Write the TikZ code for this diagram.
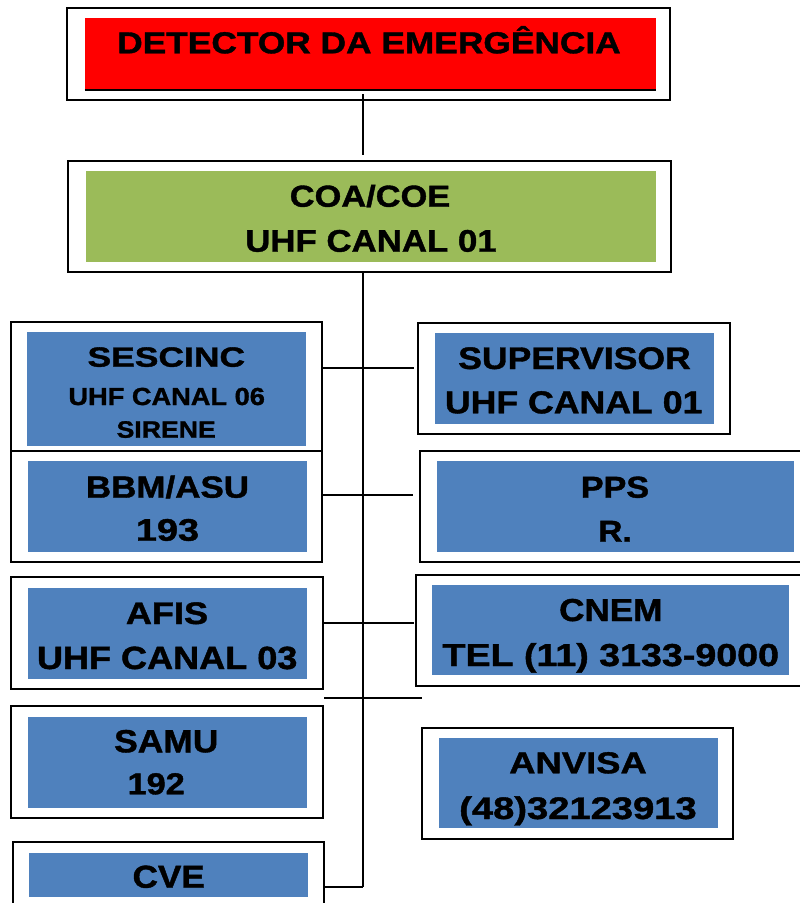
\documentclass[tikz,border=0pt]{standalone}
\usepackage{fontspec}
\usepackage{graphicx}
\usetikzlibrary{calc}
\setmainfont{Liberation Sans}[BoldFeatures={FakeBold=1.2}]
\definecolor{boxred}{HTML}{FF0000}
\definecolor{boxgreen}{HTML}{9BBB59}
\definecolor{boxblue}{HTML}{4F81BD}
\newcommand\fitline[3]{\resizebox{#2pt}{\height}{\fontsize{#1pt}{#1pt}\selectfont #3}}
\tikzset{
  outerbox/.style={draw=black, line width=1.9pt, fill=white, rectangle, inner sep=0pt, outer sep=0pt},
  innerbox/.style={fill=#1, draw=none, rectangle, inner sep=0pt, outer sep=0pt},
  txt/.style={inner sep=0pt, outer sep=0pt, anchor=base, font=\bfseries},
  conn/.style={draw=black, line width=2pt}
}
\begin{document}
\begin{tikzpicture}[x=1pt,y=-1pt]
\useasboundingbox (0,0) rectangle (800,903);
\fill[white] (0,0) rectangle (800,903);
\clip (0,0) rectangle (800,903);

% trunk coordinates
\coordinate (tx) at (363.3,0);
\coordinate (h1) at (363.3,368.3);
\coordinate (h2) at (363.3,495);
\coordinate (h3) at (363.3,622.7);
\coordinate (h4) at (363.3,698);
\coordinate (h5) at (363.3,887.3);
\coordinate (d4r) at (421.7,698);
\coordinate (d4l) at (324,698);

% top box
\node[outerbox, minimum width=603pt, minimum height=92pt] (det) at (368.5,54) {};
\node[innerbox=boxred, minimum width=571pt, minimum height=71.7pt] (detin) at (370,54.2) {};
\draw[line width=1.5pt] (detin.south west) -- (detin.south east);
\node[txt] (det1) at (369,53.3) {\fitline{30.3}{503.5}{DETECTOR DA EMERGÊNCIA}};

% COA box
\node[outerbox, minimum width=603pt, minimum height=111pt] (coa) at (369.5,216.5) {};
\node[innerbox=boxgreen, minimum width=570pt, minimum height=91pt] (coain) at (371,216.5) {};
\node[txt] (coa1) at (370,206.7) {\fitline{30.3}{160.5}{COA/COE}};
\node[txt] (coa2) at (371,251.7) {\fitline{31.2}{251.5}{UHF CANAL 01}};

% connectors
\draw[conn] ($(det.south -| tx)+(0,-6)$) -- ($(coa.north -| tx)+(0,-6)$);
\draw[conn] (tx |- coa.south) -- (h5);

% SESCINC
\node[outerbox, minimum width=311pt, minimum height=131pt] (ses) at (166.5,387.5) {};
\node[innerbox=boxblue, minimum width=279pt, minimum height=114pt] (sesin) at (166.5,389) {};
\node[txt] (ses1) at (166.3,366.7) {\fitline{27.9}{157.5}{SESCINC}};
\node[txt] (ses2) at (166.7,405) {\fitline{24.7}{196.5}{UHF CANAL 06}};
\node[txt] (ses3) at (166.2,437.7) {\fitline{23.7}{99.2}{SIRENE}};

% SUPERVISOR
\node[outerbox, minimum width=311.7pt, minimum height=111.6pt] (sup) at (574.2,378.5) {};
\node[innerbox=boxblue, minimum width=279pt, minimum height=90.4pt] (supin) at (574.5,378.5) {};
\node[txt] (sup1) at (574.5,369) {\fitline{31.2}{232.5}{SUPERVISOR}};
\node[txt] (sup2) at (573.7,413.3) {\fitline{31.7}{257.5}{UHF CANAL 01}};

% BBM/ASU
\node[outerbox, minimum width=311pt, minimum height=111.6pt] (bbm) at (166.5,506.5) {};
\node[innerbox=boxblue, minimum width=278.4pt, minimum height=90.7pt] (bbmin) at (167.5,506.3) {};
\node[txt] (bbm1) at (167.5,497.7) {\fitline{30.7}{163.2}{BBM/ASU}};
\node[txt] (bbm2) at (167.5,540.7) {\fitline{31.2}{63.2}{193}};

% PPS
\node[outerbox, minimum width=381pt, minimum height=111.6pt] (pps) at (610.5,506.5) {};
\node[innerbox=boxblue, minimum width=357.3pt, minimum height=90.7pt] (ppsin) at (615.3,506.3) {};
\node[txt] (pps1) at (615,497.7) {\fitline{30.3}{68.2}{PPS}};
\node[txt] (pps2) at (615,541.7) {\fitline{30.3}{33.5}{R.}};

% AFIS
\node[outerbox, minimum width=311.7pt, minimum height=111.7pt] (afis) at (166.8,633.2) {};
\node[innerbox=boxblue, minimum width=279pt, minimum height=90.7pt] (afisin) at (167.5,633.3) {};
\node[txt] (afis1) at (167,624) {\fitline{31.2}{82.2}{AFIS}};
\node[txt] (afis2) at (167.2,669) {\fitline{32.1}{260.5}{UHF CANAL 03}};

% CNEM
\node[outerbox, minimum width=394pt, minimum height=110.7pt] (cnem) at (613,630.3) {};
\node[innerbox=boxblue, minimum width=357pt, minimum height=89.7pt] (cnemin) at (610.5,629.8) {};
\node[txt] (cnem1) at (610.8,621) {\fitline{31.7}{103.2}{CNEM}};
\node[txt] (cnem2) at (610.8,666) {\fitline{31.7}{336.5}{TEL (11) 3133-9000}};

% SAMU
\node[outerbox, minimum width=311.7pt, minimum height=111.7pt] (samu) at (166.8,761.8) {};
\node[innerbox=boxblue, minimum width=279pt, minimum height=90.7pt] (samuin) at (167.5,762.3) {};
\node[txt] (samu1) at (166.3,752.3) {\fitline{32.1}{104.2}{SAMU}};
\node[txt] (samu2) at (156.2,794.3) {\fitline{30.3}{57.2}{192}};

% ANVISA
\node[outerbox, minimum width=311.6pt, minimum height=111.6pt] (anv) at (577.5,783.5) {};
\node[innerbox=boxblue, minimum width=278.7pt, minimum height=90pt] (anvin) at (578.3,783.3) {};
\node[txt] (anv1) at (578,773.3) {\fitline{30.3}{137.5}{ANVISA}};
\node[txt] (anv2) at (578,819) {\fitline{31.2}{237.5}{(48)32123913}};

% CVE
\node[outerbox, minimum width=311.3pt, minimum height=111.6pt] (cve) at (168.3,897.8) {};
\node[innerbox=boxblue, minimum width=278.4pt, minimum height=44pt] (cvein) at (168.5,875.3) {};
\node[txt] (cve1) at (168.7,887.7) {\fitline{31.7}{72.2}{CVE}};

% horizontal connectors
\draw[conn] (ses.east |- h1) -- ($(sup.west |- h1)+(-4,0)$);
\draw[conn] (bbm.east |- h2) -- ($(pps.west |- h2)+(-7,0)$);
\draw[conn] (afis.east |- h3) -- ($(cnem.west |- h3)+(-2,0)$);
\draw[conn] (d4l) -- (d4r);
\draw[conn] (cve.east |- h5) -- (h5);
\end{tikzpicture}
\end{document}
